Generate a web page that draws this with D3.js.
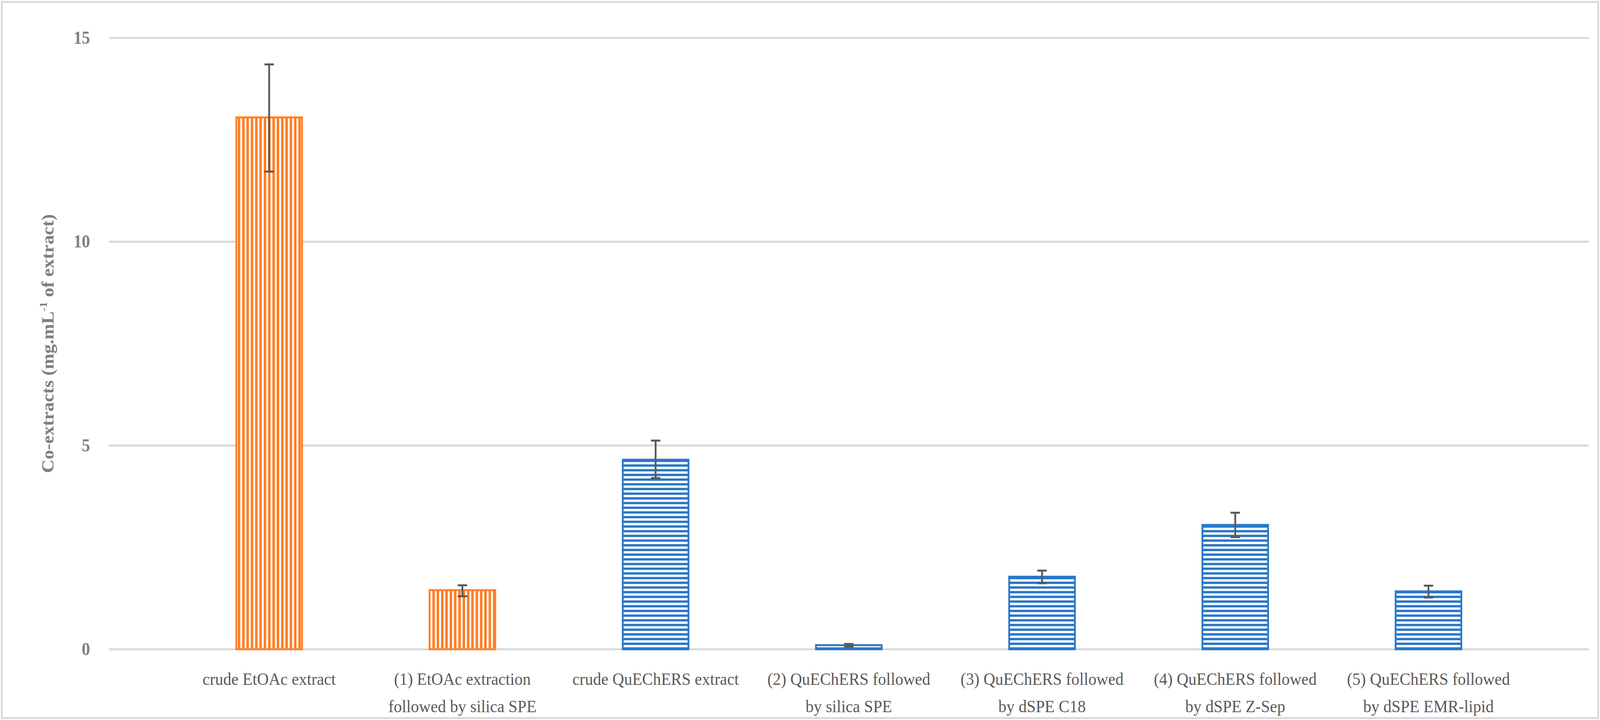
<!DOCTYPE html>
<html>
<head>
<meta charset="UTF-8">
<script src="https://d3js.org/d3.v7.min.js"></script>
<style>html,body{margin:0;background:#fff;overflow:hidden}svg{display:block;width:100vw;height:100vh}</style>
</head>
<body>
<svg id="chart" viewBox="0 0 4441 1842" preserveAspectRatio="none"></svg>
<script>
const labels = [
  ["crude EtOAc extract"],
  ["(1) EtOAc extraction", "followed by silica SPE"],
  ["crude QuEChERS extract"],
  ["(2) QuEChERS followed", "by silica SPE"],
  ["(3) QuEChERS followed", "by dSPE C18"],
  ["(4) QuEChERS followed", "by dSPE Z-Sep"],
  ["(5) QuEChERS followed", "by dSPE EMR-lipid"]
];
const values = [13.05, 1.45, 4.65, 0.1, 1.78, 3.05, 1.42];
const errHi = [14.35, 1.57, 5.12, 0.13, 1.93, 3.35, 1.56];
const errLo = [11.72, 1.30, 4.20, 0.07, 1.62, 2.75, 1.27];
const group = ["etoac", "etoac", "q", "q", "q", "q", "q"];
const yTicks = [0, 5, 10, 15];

const svg = d3.select("#chart");
const font = "'Liberation Serif', serif";
const m = {left: 302, right: 4410, top: 97, bottom: 1661};

svg.append("rect").attr("x", 5).attr("y", 5).attr("width", 4431).attr("height", 1832)
  .attr("fill", "#fff").attr("stroke", "#d9d9d9").attr("stroke-width", 5);

const defs = svg.append("defs");
const pv = defs.append("pattern").attr("id", "vert").attr("patternUnits", "userSpaceOnUse")
  .attr("width", 12).attr("height", 12);
pv.append("rect").attr("width", 12).attr("height", 12).attr("fill", "#fff");
pv.append("rect").attr("width", 7).attr("height", 12).attr("fill", "#ff7f27");
const ph = defs.append("pattern").attr("id", "horiz").attr("patternUnits", "userSpaceOnUse")
  .attr("width", 12).attr("height", 12);
ph.append("rect").attr("width", 12).attr("height", 12).attr("fill", "#fff");
ph.append("rect").attr("width", 12).attr("height", 6).attr("fill", "#2a78c8");

const x = d3.scaleBand().domain(d3.range(labels.length)).range([m.left, m.right]).padding(0.66);
const y = d3.scaleLinear().domain([0, 15]).range([m.bottom, m.top]);

svg.append("g").selectAll("line").data(yTicks).join("line")
  .attr("x1", m.left).attr("x2", m.right)
  .attr("y1", d => y(d)).attr("y2", d => y(d))
  .attr("stroke", "#d9d9d9").attr("stroke-width", 5);

svg.append("g").selectAll("text").data(yTicks).join("text")
  .attr("x", 250).attr("y", d => y(d) + 15).attr("text-anchor", "end")
  .attr("font-family", font).attr("font-size", 46).attr("font-weight", "bold")
  .attr("fill", "#7f7f7f").text(d => d);

const bars = svg.append("g").selectAll("g").data(values).join("g");
bars.append("rect")
  .attr("x", (d, i) => x(i)).attr("width", x.bandwidth())
  .attr("y", d => y(d)).attr("height", d => y(0) - y(d))
  .attr("fill", (d, i) => group[i] === "etoac" ? "url(#vert)" : "url(#horiz)")
  .attr("stroke", (d, i) => group[i] === "etoac" ? "#ff7f27" : "#2a78c8")
  .attr("stroke-width", 5);

const err = svg.append("g").attr("stroke", "#595959").attr("stroke-width", 5);
values.forEach((v, i) => {
  const cx = x(i) + x.bandwidth() / 2;
  err.append("line").attr("x1", cx).attr("x2", cx).attr("y1", y(errHi[i])).attr("y2", y(errLo[i]));
  [errHi[i], errLo[i]].forEach(e => err.append("line")
    .attr("x1", cx - 13).attr("x2", cx + 13).attr("y1", y(e)).attr("y2", y(e)));
});

labels.forEach((lines, i) => {
  const cx = x(i) + x.bandwidth() / 2;
  const t = svg.append("text").attr("text-anchor", "middle")
    .attr("font-family", font).attr("font-size", 45).attr("fill", "#595959");
  lines.forEach((l, k) => t.append("tspan").attr("x", cx).attr("y", 1752 + k * 70).text(l));
});

const yt = svg.append("text")
  .attr("transform", `translate(148,${(m.top + m.bottom) / 2 + 0}) rotate(-90)`)
  .attr("text-anchor", "middle").attr("font-family", font).attr("font-size", 48)
  .attr("font-weight", "bold").attr("fill", "#7f7f7f");
yt.append("tspan").text("Co-extracts  (mg.mL");
yt.append("tspan").attr("font-size", 30).attr("dy", -18).text("-1");
yt.append("tspan").attr("dy", 18).text(" of extract)");
</script>
</body>
</html>
